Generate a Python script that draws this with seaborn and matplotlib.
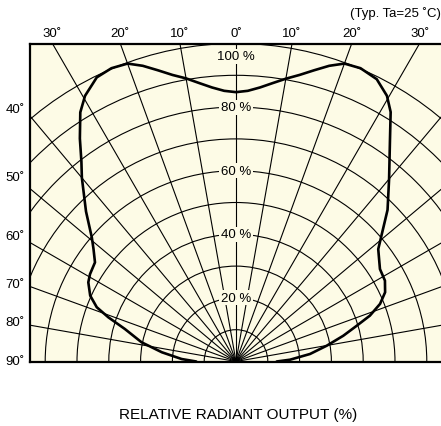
import numpy as np
import pandas as pd
import matplotlib
matplotlib.use("Agg")
import matplotlib.pyplot as plt
import matplotlib.transforms as mtransforms
from matplotlib.patches import Circle
import seaborn as sns

# ---- data (angle from axis in degrees, relative radiant output in %) ----
angle_left = [-90, -87.4, -82.9, -78.5, -73.7, -70.9, -68.7, -65.7, -61.8, -59.1,
              -54.9, -51.7, -49.3, -45, -40, -37.7, -35, -32, -29.6, -26.1,
              -23, -20, -17.5, -15, -12.5, -10, -7.5, -5, -2.5, 0]
output_left = [12.5, 17.1, 23.5, 30.3, 36.4, 42.5, 47.0, 50.3, 52.7, 53.5,
               54.2, 57.1, 59.8, 66.7, 75.4, 79.5, 85.6, 92.4, 96.1, 99.5,
               100.2, 99.7, 97.5, 94.8, 92.3, 90.4, 88.3, 86.5, 85.2, 84.7]
angle_right = [2.5, 5, 7.5, 10, 12.5, 15, 17.5, 20, 23, 26.5, 29.6, 31.8, 35,
               40, 45, 51.7, 57.3, 61.5, 65.1, 68.2, 71.1, 73.5, 76.5, 80.1,
               84.2, 88.1, 90]
output_right = [85.2, 86.5, 88.3, 90.3, 92.3, 94.8, 97.5, 99.7, 100.2, 99.2, 96.1,
                92.3, 84.4, 74.9, 67.4, 57.0, 53.8, 53.3, 51.7, 48.8, 44.5, 39.6,
                34.7, 29.0, 23.4, 17.0, 12.8]

grid_angles = list(range(-90, 91, 10))
grid_radii = list(range(10, 101, 10))
ring_labels = ["20 %", "40 %", "60 %", "80 %", "100 %"]
ring_label_r = [20, 40, 60, 80, 96]
top_tick_angles = [-30, -20, -10, 0, 10, 20, 30]
top_tick_labels = ["30˚", "20˚", "10˚", "0˚", "10˚", "20˚", "30˚"]
side_tick_labels = ["40˚", "50˚", "60˚", "70˚", "80˚", "90˚"]
side_tick_y = [79.4, 58.0, 39.6, 24.4, 12.4, 0.3]

BG = "#FDFBE6"

sns.set_style("white")
plt.rcParams["font.family"] = ["Liberation Sans", "DejaVu Sans"]
plt.rcParams["text.color"] = "black"

fig = plt.figure(figsize=(4.41, 4.27), dpi=100)
W, H = 441, 427
ax = fig.add_axes([30 / W, (H - 362.5) / H, 411 / W, 318 / H])
ax.set_facecolor(BG)
ax.set_xlim(-64.78, 64.47)
ax.set_ylim(0, 100)

# grid: circles and radial lines
for r in grid_radii:
    ax.add_patch(Circle((0, 0), r, fill=False, lw=0.8, ec="black", zorder=1))
for a in grid_angles:
    t = np.deg2rad(a)
    ax.plot([0, 200 * np.sin(t)], [0, 200 * np.cos(t)], color="black", lw=0.8, zorder=1)

# curve
ang = np.array(angle_left + angle_right)
out = np.array(output_left + output_right)
df = pd.DataFrame({"x": out * np.sin(np.deg2rad(ang)),
                   "y": out * np.cos(np.deg2rad(ang))})
sns.lineplot(data=df, x="x", y="y", sort=False, color="black", lw=1.9, ax=ax, zorder=3)

for lab, r in zip(ring_labels, ring_label_r):
    ax.text(0, r, lab, ha="center", va="center", fontsize=9.5, zorder=4, color="black",
            bbox=dict(facecolor=BG, edgecolor="none", pad=1.0))

ymax = ax.get_ylim()[1]
trans_top = mtransforms.blended_transform_factory(ax.transData, ax.transAxes)
for a, lab in zip(top_tick_angles, top_tick_labels):
    ax.text(ymax * np.tan(np.deg2rad(a)), 1.033, lab, transform=trans_top,
            ha="center", va="center", fontsize=9.5, color="black")
trans_side = mtransforms.blended_transform_factory(ax.transAxes, ax.transData)
for y, lab in zip(side_tick_y, side_tick_labels):
    ax.text(-0.0365, y, lab, transform=trans_side, ha="center", va="center",
            fontsize=9.5, color="black")

ax.set_xticks([])
ax.set_yticks([])
ax.set_xlabel("")
ax.set_ylabel("")
for s in ["left", "top", "bottom"]:
    ax.spines[s].set_linewidth(1.6)
    ax.spines[s].set_color("black")
ax.spines["right"].set_visible(False)

fig.text(238 / W, 1 - 415 / H, "RELATIVE RADIANT OUTPUT (%)", ha="center", va="center",
         fontsize=11, color="black")
fig.text(440.5 / W, 1 - 14 / H, "(Typ. Ta=25 ˚C)", ha="right", va="center",
         fontsize=9.5, color="black")

fig.savefig("out.png", dpi=100, facecolor="white")
